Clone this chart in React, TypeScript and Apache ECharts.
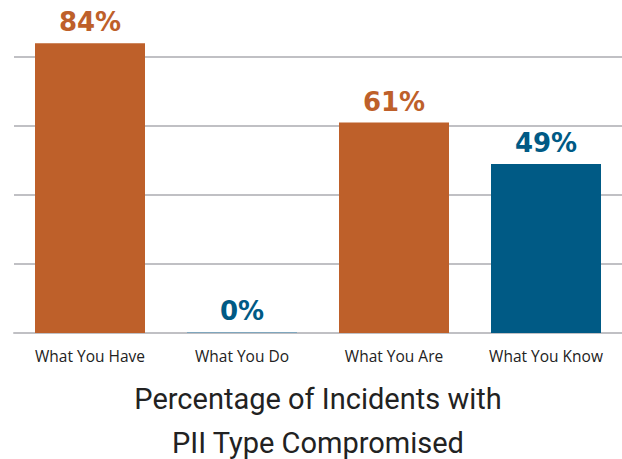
import React, { useEffect, useRef } from "react";
import * as echarts from "echarts";

const categories = ["What You Have", "What You Do", "What You Are", "What You Know"];
const values = [84, 0, 61, 49];
const barColors = ["#be602a", "#7fa6bd", "#be602a", "#005a85"];
const labelColors = ["#be602a", "#005a85", "#be602a", "#005a85"];
const titleLines = ["Percentage of Incidents with", "PII Type Compromised"];

export default function App() {
  const ref = useRef<HTMLDivElement>(null);
  useEffect(() => {
    document.body.style.margin = "0";
    const chart = echarts.init(ref.current!, null, { renderer: "svg" });
    chart.setOption({
      animation: false,
      grid: { left: 14, right: 0, top: 0, bottom: 126 },
      xAxis: {
        type: "category",
        data: categories,
        axisTick: { show: false },
        axisLine: { show: true, lineStyle: { color: "#c0c0c4", width: 2 } },
        axisLabel: {
          color: "#222",
          fontSize: 15.5,
          fontFamily: "Open Sans",
          margin: 15,
        },
      },
      yAxis: {
        type: "value",
        min: 0,
        max: 100,
        interval: 20,
        axisLabel: { show: false },
        axisLine: { show: false },
        axisTick: { show: false },
        splitLine: { lineStyle: { color: "#c0c0c4", width: 2 } },
      },
      series: [
        {
          type: "bar",
          barWidth: 110,
          barMinHeight: 1,
          data: values.map((v, i) => ({
            value: v,
            itemStyle: { color: barColors[i] },
            label: { color: labelColors[i] },
          })),
          label: {
            show: true,
            position: "top",
            distance: 8,
            formatter: "{c}%",
            fontSize: 26,
            fontWeight: "bold",
            fontFamily: "DejaVu Sans",
          },
        },
      ],
      graphic: [
        {
          type: "text",
          x: 318,
          y: 389,
          style: {
            text: titleLines.join("\n"),
            textAlign: "center",
            fill: "#222",
            fontSize: 29,
            lineHeight: 44,
            fontFamily: "Roboto",
            fontWeight: "normal",
          },
        },
      ],
    });
    return () => chart.dispose();
  }, []);
  return (
    <div style={{ width: 622, height: 459, overflow: "hidden", position: "relative" }}>
      <div ref={ref} style={{ position: "absolute", left: 0, top: -12, width: 622, height: 471 }} />
    </div>
  );
}
